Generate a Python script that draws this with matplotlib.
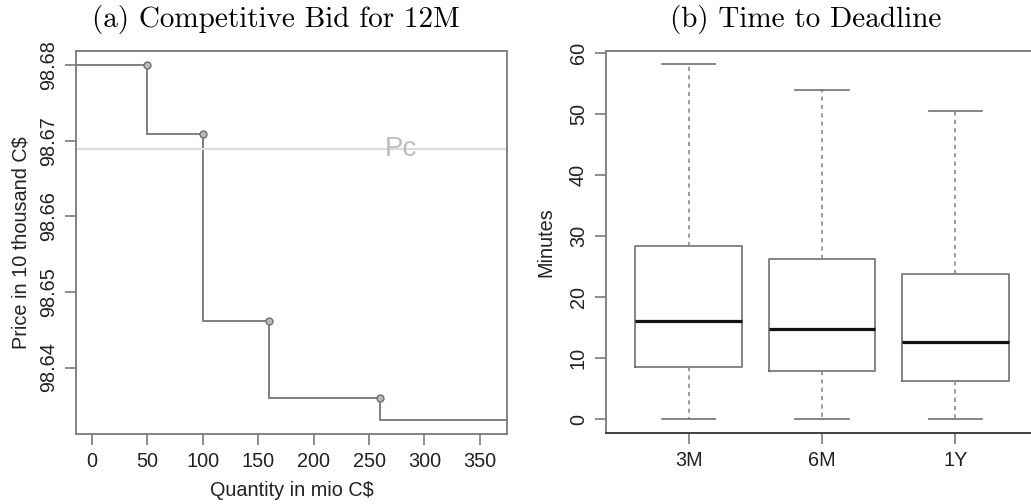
import numpy as np
import matplotlib.pyplot as plt

# ---- data (a): competitive bid step function ----
bid_breaks = [50, 100, 160, 260]                      # quantity in mio C$
bid_levels = [98.6800, 98.6709, 98.6461, 98.6360, 98.6331]
price_pc = 98.6689

# ---- data (b): time to deadline box stats ----
box_labels = ["3M", "6M", "1Y"]
whisker_lo = [0.0, 0.0, 0.0]
q1 = [8.55, 7.8, 6.2]
medians = [16.1, 14.7, 12.7]
q3 = [28.3, 26.2, 23.8]
whisker_hi = [58.1, 53.9, 50.4]

plt.rcParams['font.family'] = ['Liberation Sans', 'DejaVu Sans']
tick_fs = 14.3
spine_col = "#7a7a7a"

fig = plt.figure(figsize=(10.31, 5.04), dpi=100)

# ---------- (a) ----------
ax1 = fig.add_axes([0.0737, 0.1389, 0.418, 0.760])
edges = [-50] + bid_breaks + [450]
ax1.stairs(bid_levels, edges, baseline=None, color="#808080", lw=1.4)
ax1.plot(bid_breaks, bid_levels[:-1], "o", ms=5, mfc="#bbbbbb", mec="#707070", mew=1.0)
ax1.axhline(price_pc, color="#dddddd", lw=1.5)
ax1.text(279, price_pc, "Pc", color="#bdbdbd", fontsize=20, ha="center", va="center")
ax1.set_xlim(-14.4, 374.4)
ax1.set_ylim(98.6312, 98.6819)
ax1.set_xticks(np.arange(0, 351, 50))
ax1.set_yticks([98.64, 98.65, 98.66, 98.67, 98.68])
ax1.set_yticklabels(["98.64", "98.65", "98.66", "98.67", "98.68"], rotation=90, va="center")
ax1.set_xlabel("Quantity in mio C$", fontsize=tick_fs, color="#222222", labelpad=7)
ax1.set_ylabel("Price in 10 thousand C$", fontsize=tick_fs, color="#222222", labelpad=6)

# ---------- (b) ----------
ax2 = fig.add_axes([0.5878, 0.1403, 0.419, 0.7591])
stats = []
for i, lab in enumerate(box_labels):
    stats.append(dict(label=lab, whislo=whisker_lo[i], q1=q1[i], med=medians[i],
                      q3=q3[i], whishi=whisker_hi[i], fliers=[]))
ax2.bxp(stats, positions=[1, 2, 3], widths=0.8, showfliers=False,
        boxprops=dict(color="#707070", lw=1.2),
        medianprops=dict(color="#111111", lw=2.3),
        whiskerprops=dict(color="#8a8a8a", lw=1.2, linestyle=(0, (2.5, 2.5))),
        capprops=dict(color="#707070", lw=1.2),
        capwidths=0.4)
ax2.set_xlim(0.38, 3.62)
ax2.set_ylim(-2.32, 60.32)
ax2.set_yticks(np.arange(0, 61, 10))
ax2.set_yticklabels([str(v) for v in range(0, 61, 10)], rotation=90, va="center")
ax2.set_ylabel("Minutes", fontsize=tick_fs, color="#222222", labelpad=10)

for ax in (ax1, ax2):
    for s in ax.spines.values():
        s.set_color(spine_col)
        s.set_linewidth(1.3)
    ax.tick_params(labelsize=tick_fs, length=8, width=1.2, color=spine_col,
                   labelcolor="#222222", pad=5)
ax2.spines["bottom"].set_color("#333333")

# titles (serif, LaTeX-like)
fig.text(276 / 1031, 1 - 20 / 504, "(a) Competitive Bid for 12M", family="cmr10",
         fontsize=21, ha="center", va="center")
fig.text(806 / 1031, 1 - 20 / 504, "(b) Time to Deadline", family="cmr10",
         fontsize=21, ha="center", va="center")

fig.savefig("out.png", dpi=100)
